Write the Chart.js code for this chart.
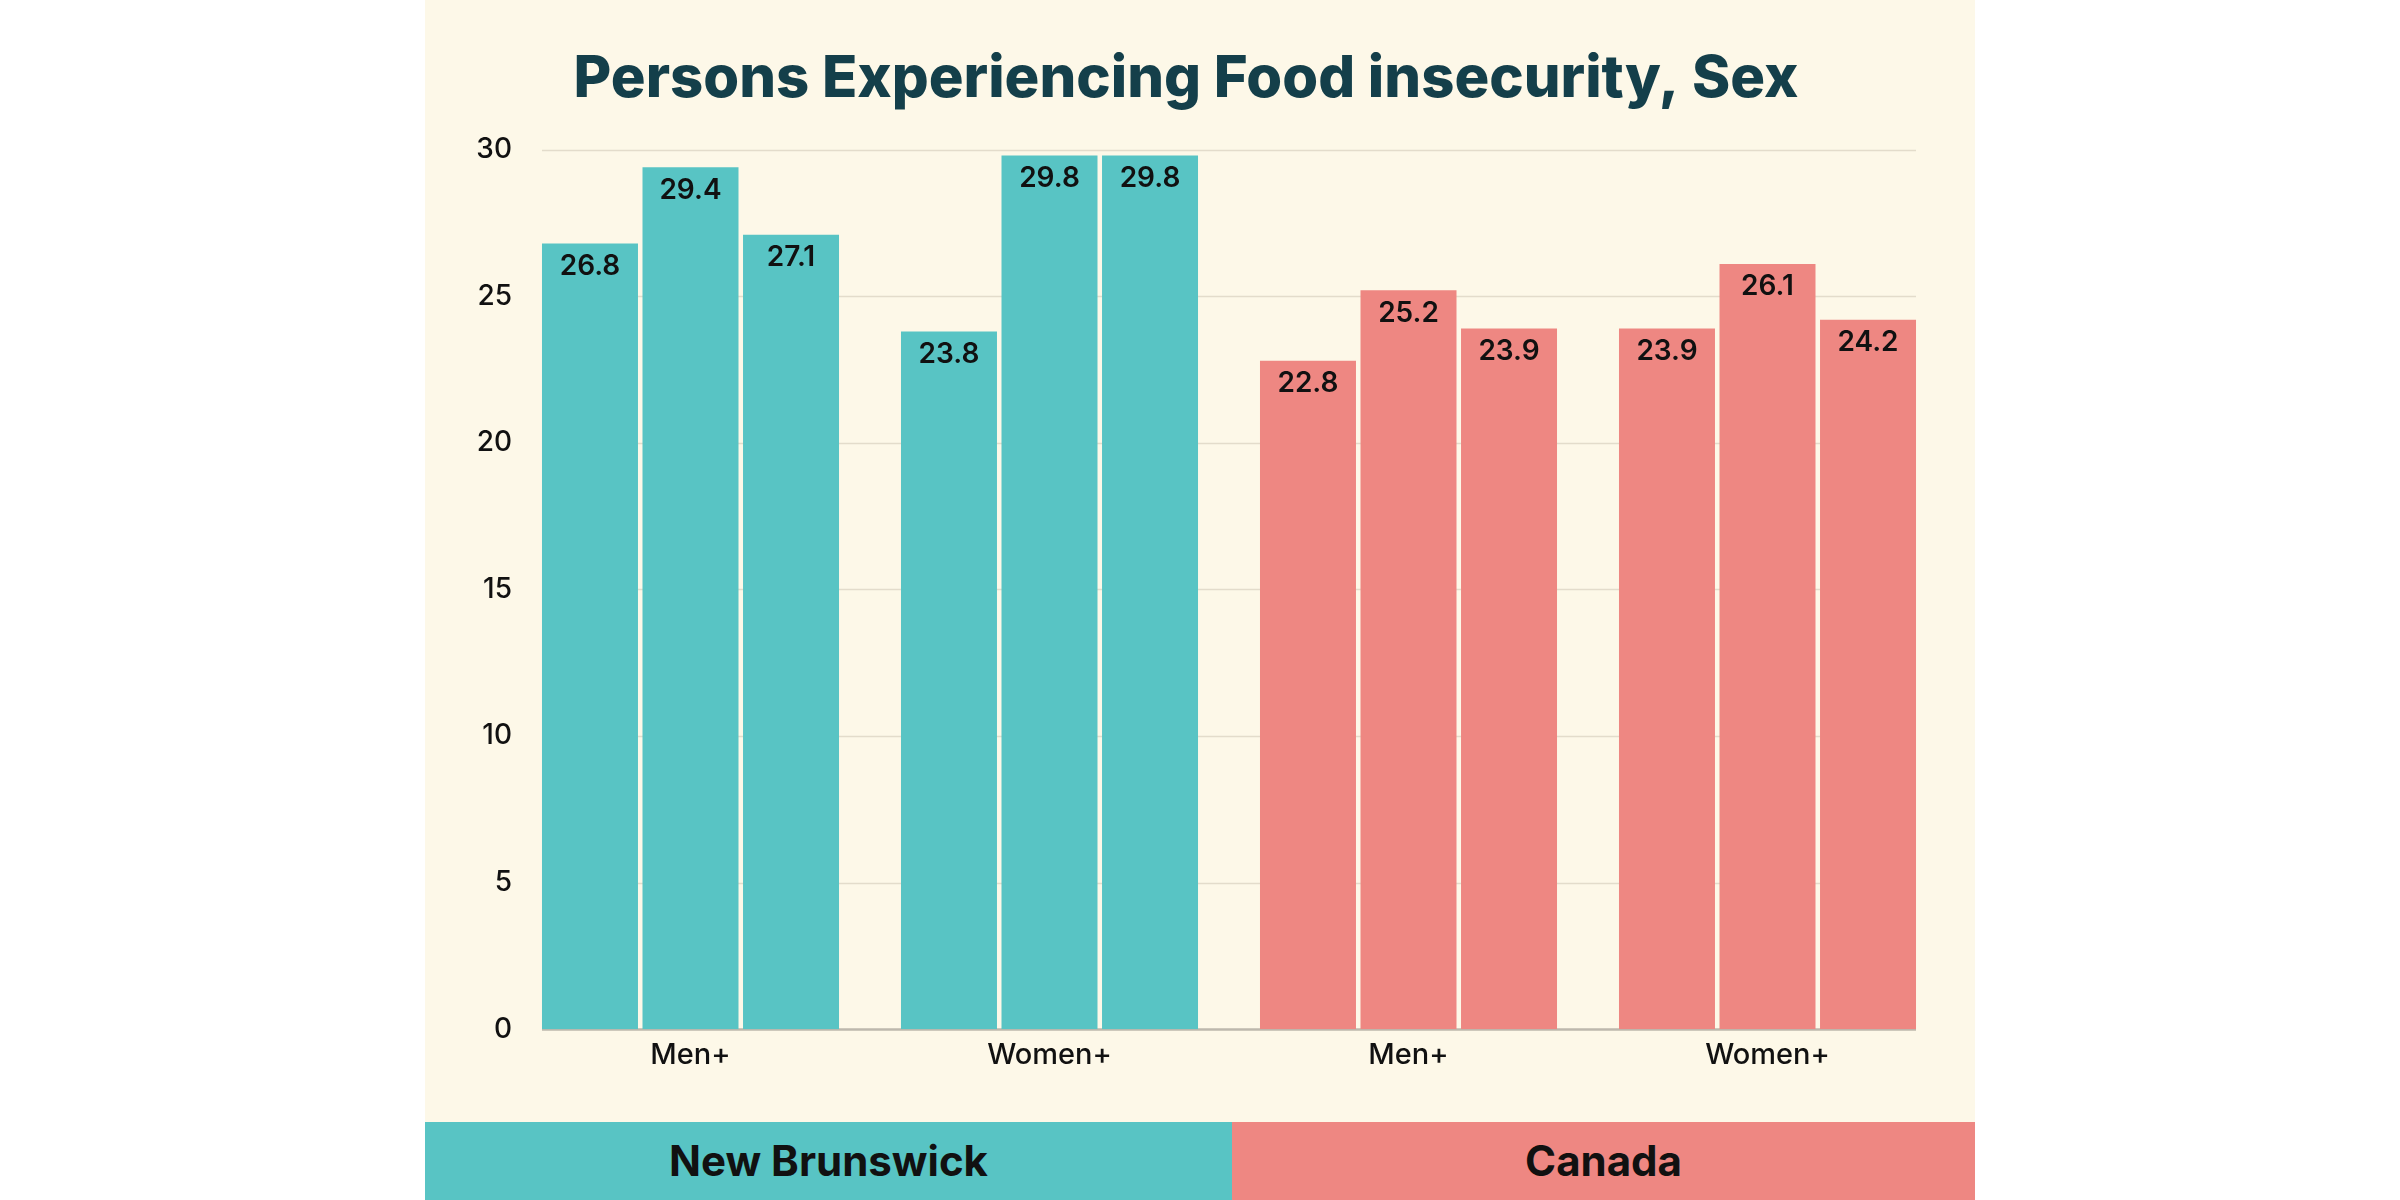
<!doctype html>
<html lang="en">
<head>
<meta charset="utf-8">
<title>Persons Experiencing Food insecurity, Sex</title>
<script src="https://cdn.jsdelivr.net/npm/chart.js@4.4.0/dist/chart.umd.min.js"></script>
<style>
    html, body { margin: 0; padding: 0; background: #ffffff; }
    #panel { position: absolute; left: 425px; top: 0; width: 1550px; height: 1122px; background: #fdf8e8; }
    .band { position: absolute; top: 1122px; height: 78px; line-height: 78px; text-align: center;
            font-family: Inter, "Open Sans", sans-serif; font-weight: 700; font-size: 42px; color: #111; }
    #nb { left: 425px; width: 807px; background: #58c4c4; }
    #ca { left: 1232px; width: 743px; background: #ee8782; }
</style>
</head>
<body>
<div id="panel"><canvas id="chart" width="1550" height="1122"></canvas></div>
<div class="band" id="nb">New Brunswick</div>
<div class="band" id="ca">Canada</div>

<script>
    // categorias y valores
    var categorias = ["Men+", "Women+", "Men+", "Women+"];
    var serie1 = [26.8, 23.8, 22.8, 23.9];
    var serie2 = [29.4, 29.8, 25.2, 26.1];
    var serie3 = [27.1, 29.8, 23.9, 24.2];
    var yTicks = [0, 5, 10, 15, 20, 25, 30];

    var TEAL = '#58c4c4';
    var SALMON = '#ee8782';
    var colores = [TEAL, TEAL, SALMON, SALMON];
    var FONT = 'Inter, "Open Sans", sans-serif';

    // lineas de la grilla solo entre la primera y la ultima barra
    var grilla = {
        id: 'grilla',
        beforeDatasetsDraw: function (chart) {
            var ctx = chart.ctx;
            var y = chart.scales.y;
            var first = chart.getDatasetMeta(0).data[0];
            var last = chart.getDatasetMeta(chart.data.datasets.length - 1).data[categorias.length - 1];
            var x0 = first.x - first.width / 2;
            var x1 = last.x + last.width / 2;
            ctx.save();
            yTicks.forEach(function (v) {
                var py = Math.round(y.getPixelForValue(v)) + 0.5;
                ctx.strokeStyle = v === 0 ? '#bdb8ad' : '#e3dccb';
                ctx.lineWidth = v === 0 ? 2.5 : 1.5;
                ctx.beginPath();
                ctx.moveTo(x0, py);
                ctx.lineTo(x1, py);
                ctx.stroke();
            });
            ctx.restore();
        }
    };

    // etiquetas dentro de la barra, arriba
    var etiquetas = {
        id: 'etiquetas',
        afterDatasetsDraw: function (chart) {
            var ctx = chart.ctx;
            ctx.save();
            ctx.font = '600 28px ' + FONT;
            ctx.fillStyle = '#111';
            ctx.textAlign = 'center';
            ctx.textBaseline = 'middle';
            chart.data.datasets.forEach(function (ds, i) {
                chart.getDatasetMeta(i).data.forEach(function (bar, j) {
                    ctx.fillText(ds.data[j].toFixed(1), bar.x, bar.y + 23);
                });
            });
            ctx.restore();
        }
    };

    function dataset(valores) {
        return {
            data: valores,
            backgroundColor: colores,
            borderWidth: 0,
            barPercentage: 0.955,
            categoryPercentage: 0.84
        };
    }

    new Chart(document.getElementById('chart').getContext('2d'), {
        type: 'bar',
        data: {
            labels: categorias,
            datasets: [dataset(serie1), dataset(serie2), dataset(serie3)]
        },
        options: {
            responsive: false,
            animation: false,
            devicePixelRatio: 1,
            layout: { padding: { left: 0, right: 28, top: 0, bottom: 48 } },
            plugins: {
                legend: { display: false },
                tooltip: { enabled: false },
                title: {
                    display: true,
                    text: 'Persons Experiencing Food insecurity, Sex',
                    color: '#143f4a',
                    font: { family: FONT, size: 58, weight: '800' },
                    padding: { top: 45, bottom: 35 }
                }
            },
            scales: {
                x: {
                    grid: { display: false },
                    border: { display: false },
                    ticks: { color: '#111', font: { family: FONT, size: 29, weight: '500' }, padding: 1 }
                },
                y: {
                    min: 0,
                    max: 30,
                    afterBuildTicks: function (axis) {
                        axis.ticks = yTicks.map(function (v) { return { value: v }; });
                    },
                    afterFit: function (axis) { axis.width = 86; },
                    grid: { display: false },
                    border: { display: false },
                    ticks: { color: '#111', font: { family: FONT, size: 28, weight: '500' }, padding: -9 }
                }
            }
        },
        plugins: [grilla, etiquetas]
    });
</script>
</body>
</html>
